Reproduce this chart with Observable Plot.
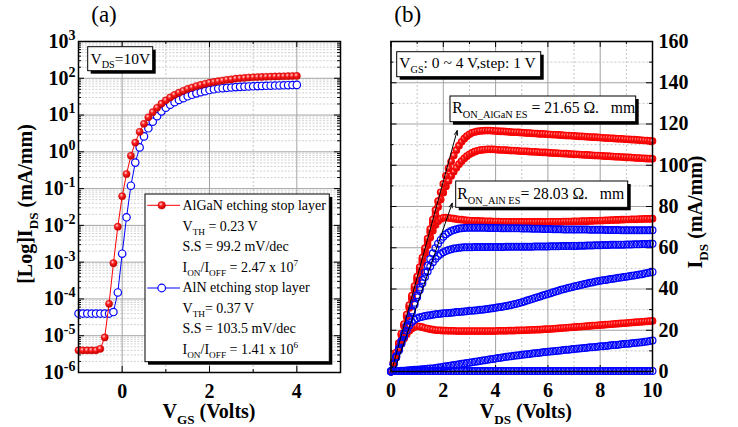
<!DOCTYPE html>
<html><head><meta charset="utf-8">
<script src="https://cdn.jsdelivr.net/npm/d3@7"></script>
<script src="https://cdn.jsdelivr.net/npm/@observablehq/plot@0.6"></script>
<style>
html,body{margin:0;padding:0;background:#fff;}
#wrap{display:flex;width:738px;height:427px;overflow:hidden;}
#wrap svg{flex:none;overflow:visible;}
</style></head><body><div id="wrap"></div>
<script>
// ---------- Panel (a): transfer characteristics, VDS = 10 V ----------
const vgs = [-1.0,-0.9,-0.8,-0.7,-0.6,-0.5,-0.4,-0.3,-0.2,-0.1,
  0.0,0.1,0.2,0.3,0.4,0.5,0.6,0.7,0.8,0.9,
  1.0,1.1,1.2,1.3,1.4,1.5,1.6,1.7,1.8,1.9,
  2.0,2.1,2.2,2.3,2.4,2.5,2.6,2.7,2.8,2.9,
  3.0,3.1,3.2,3.3,3.4,3.5,3.6,3.7,3.8,3.9,4.0];
const idsAlGaN = [4.0e-6,4.0e-6,4.0e-6,4.0e-6,4.0e-6,4.4e-6,9.0e-6,7.4e-5,9.4e-4,9.2e-3,
  6.2e-2,0.25,0.78,1.78,3.5,5.8,8.7,12.0,15.8,20.4,
  25.1,30.2,35.5,40.7,45.7,51.3,56.2,61.7,66.1,70.8,
  75.9,79.4,83.2,87.1,91.2,93.3,97.7,100,102,105,
  106.5,107.8,109,110,111,112,112.8,113.6,114.4,115.2,116];
const idsAlN = [4.0e-5,4.0e-5,4.0e-5,4.0e-5,4.0e-5,4.0e-5,4.0e-5,4.0e-5,4.4e-5,1.5e-4,
  1.7e-3,1.66e-2,0.12,0.51,1.32,2.63,4.37,6.6,9.3,12.6,
  15.8,19.1,22.4,25.7,28.8,32.4,35.5,38.9,41.7,44.7,
  47.9,50.1,52.5,53.7,55.0,56.2,57.5,58.4,59.2,60.0,
  60.6,61.2,61.8,62.4,62.9,63.4,63.9,64.4,64.9,65.4,66.0];
const logTicks = [1e-6,1e-5,1e-4,1e-3,1e-2,1e-1,1,10,100,1000];
const xTicksA = [0,2,4];
const xMinorA = [1,3];
const legendLinesA = [
  [["AlGaN etching stop layer"]],
  [["V"],["TH","sub"],[" = 0.23 V"]],
  [["S.S = 99.2 mV/dec"]],
  [["I"],["ON","sub"],["/I"],["OFF","sub"],[" = 2.47 x 10"],["7","sup"]],
  [["AlN etching stop layer"]],
  [["V"],["TH","sub"],["= 0.37 V"]],
  [["S.S = 103.5 mV/dec"]],
  [["I"],["ON","sub"],["/I"],["OFF","sub"],[" = 1.41 x 10"],["6","sup"]]
];

// ---------- Panel (b): output characteristics, VGS 0..4 V ----------
const vds = [0,0.1,0.2,0.3,0.4,0.5,0.6,0.7,0.8,0.9,
  1,1.1,1.2,1.3,1.4,1.5,1.6,1.7,1.8,1.9,
  2,2.1,2.2,2.3,2.4,2.5,2.6,2.7,2.8,2.9,
  3,3.1,3.2,3.3,3.4,3.5,3.6,3.7,3.8,3.9,
  4,4.1,4.2,4.3,4.4,4.5,4.6,4.7,4.8,4.9,
  5,5.1,5.2,5.3,5.4,5.5,5.6,5.7,5.8,5.9,
  6,6.1,6.2,6.3,6.4,6.5,6.6,6.7,6.8,6.9,
  7,7.1,7.2,7.3,7.4,7.5,7.6,7.7,7.8,7.9,
  8,8.1,8.2,8.3,8.4,8.5,8.6,8.7,8.8,8.9,
  9,9.1,9.2,9.3,9.4,9.5,9.6,9.7,9.8,9.9,10];
const algan4 = [0,4.6,9.2,13.8,18.4,23.0,27.6,32.2,36.8,41.4,
  46.0,50.6,55.2,59.8,64.4,69.0,73.6,78.2,82.6,86.9,
  91.0,94.9,98.5,101.8,104.7,107.3,109.5,111.4,112.9,114.1,
  115.0,115.7,116.1,116.4,116.6,116.7,116.8,116.8,116.8,116.7,
  116.6,116.5,116.4,116.4,116.3,116.2,116.1,116.0,116.0,115.9,
  115.8,115.7,115.6,115.6,115.5,115.4,115.3,115.2,115.2,115.1,
  115.0,114.9,114.8,114.8,114.7,114.6,114.5,114.4,114.4,114.3,
  114.2,114.1,114.0,114.0,113.9,113.8,113.7,113.6,113.6,113.5,
  113.4,113.3,113.2,113.2,113.1,113.0,112.9,112.8,112.8,112.7,
  112.6,112.5,112.4,112.4,112.3,112.2,112.1,112.0,111.9,111.8,111.7];
const algan3 = [0,4.5,9.0,13.5,18.0,22.5,27.0,31.5,36.0,40.5,
  45.0,49.5,54.0,58.5,63.0,67.5,71.8,75.9,79.8,83.4,
  86.7,89.7,92.4,94.8,96.9,98.8,100.5,102.0,103.3,104.4,
  105.3,106.0,106.6,107.0,107.3,107.5,107.6,107.7,107.7,107.7,
  107.6,107.5,107.4,107.4,107.3,107.2,107.1,107.1,107.0,106.9,
  106.8,106.8,106.7,106.6,106.5,106.5,106.4,106.3,106.2,106.2,
  106.1,106.0,105.9,105.9,105.8,105.7,105.6,105.6,105.5,105.4,
  105.3,105.3,105.2,105.1,105.0,105.0,104.9,104.8,104.7,104.7,
  104.6,104.5,104.4,104.4,104.3,104.2,104.1,104.1,104.0,103.9,
  103.8,103.8,103.7,103.6,103.5,103.5,103.4,103.3,103.2,103.2,103.1];
const algan2 = [0,4.4,8.8,13.2,17.6,22.0,26.4,30.8,35.2,39.6,
  44.0,48.4,52.8,57.1,61.2,65.0,68.3,71.0,72.9,74.0,
  74.5,74.6,74.5,74.3,74.1,73.9,73.7,73.6,73.4,73.3,
  73.2,73.1,73.0,73.0,72.9,72.9,72.8,72.8,72.8,72.7,
  72.7,72.7,72.6,72.6,72.6,72.6,72.5,72.5,72.5,72.5,
  72.5,72.5,72.5,72.5,72.5,72.5,72.5,72.5,72.5,72.5,
  72.5,72.6,72.6,72.6,72.6,72.6,72.7,72.7,72.7,72.7,
  72.8,72.8,72.8,72.9,72.9,72.9,73.0,73.0,73.1,73.1,
  73.2,73.2,73.3,73.3,73.4,73.4,73.5,73.5,73.6,73.6,
  73.7,73.7,73.8,73.8,73.8,73.9,73.9,74.0,74.0,74.0,74.1];
const algan1 = [0,3.6,7.1,10.4,13.4,16.0,18.1,19.8,20.9,21.6,
  21.9,21.8,21.5,21.1,20.8,20.5,20.3,20.1,20.0,19.9,
  19.8,19.8,19.7,19.7,19.7,19.6,19.6,19.6,19.6,19.6,
  19.6,19.6,19.6,19.6,19.6,19.6,19.6,19.6,19.6,19.6,
  19.6,19.7,19.7,19.7,19.7,19.8,19.8,19.8,19.9,19.9,
  20.0,20.0,20.1,20.1,20.2,20.2,20.3,20.3,20.4,20.5,
  20.5,20.6,20.7,20.8,20.9,21.0,21.1,21.2,21.3,21.4,
  21.5,21.6,21.7,21.8,21.9,22.0,22.1,22.2,22.3,22.4,
  22.5,22.6,22.7,22.8,22.9,23.0,23.1,23.2,23.3,23.4,
  23.5,23.6,23.7,23.8,23.9,24.0,24.1,24.2,24.3,24.4,24.5];
const aln4 = [0,3.7,7.4,11.1,14.8,18.5,22.2,25.9,29.6,33.3,
  37.0,40.7,44.4,48.0,51.4,54.5,57.3,59.8,62.0,63.8,
  65.3,66.5,67.4,68.1,68.6,69.0,69.3,69.5,69.6,69.7,
  69.7,69.7,69.7,69.7,69.7,69.7,69.7,69.6,69.6,69.6,
  69.6,69.6,69.5,69.5,69.5,69.5,69.4,69.4,69.4,69.4,
  69.3,69.3,69.3,69.3,69.2,69.2,69.2,69.2,69.1,69.1,
  69.1,69.1,69.0,69.0,69.0,69.0,68.9,68.9,68.9,68.9,
  68.9,68.8,68.8,68.8,68.8,68.8,68.7,68.7,68.7,68.7,
  68.7,68.7,68.6,68.6,68.6,68.6,68.6,68.6,68.5,68.5,
  68.5,68.5,68.5,68.5,68.5,68.5,68.5,68.5,68.5,68.5,68.5];
const aln3 = [0,3.6,7.2,10.8,14.4,18.0,21.6,25.2,28.8,32.4,
  36.0,39.5,42.8,45.8,48.5,50.9,53.0,54.7,56.0,57.0,
  57.8,58.4,58.9,59.3,59.6,59.8,60.0,60.1,60.2,60.3,
  60.3,60.3,60.4,60.4,60.4,60.4,60.4,60.4,60.4,60.4,
  60.4,60.4,60.4,60.4,60.5,60.5,60.5,60.5,60.5,60.5,
  60.5,60.5,60.5,60.5,60.5,60.6,60.6,60.6,60.6,60.6,
  60.6,60.7,60.7,60.7,60.7,60.8,60.8,60.8,60.8,60.9,
  60.9,60.9,61.0,61.0,61.0,61.1,61.1,61.1,61.2,61.2,
  61.2,61.3,61.3,61.3,61.4,61.4,61.4,61.5,61.5,61.5,
  61.6,61.6,61.6,61.7,61.7,61.7,61.8,61.8,61.8,61.9,61.9];
const aln2 = [0,3.4,6.8,10.2,13.6,16.9,19.9,22.3,24.0,25.1,
  25.8,26.3,26.6,26.9,27.1,27.3,27.5,27.7,27.9,28.0,
  28.2,28.3,28.4,28.5,28.6,28.8,28.9,29.0,29.1,29.2,
  29.4,29.5,29.6,29.7,29.9,30.0,30.2,30.3,30.5,30.7,
  30.9,31.1,31.3,31.5,31.7,32.0,32.3,32.6,32.9,33.2,
  33.6,34.0,34.4,34.8,35.2,35.6,36.0,36.4,36.8,37.2,
  37.6,38.0,38.4,38.8,39.2,39.6,39.9,40.3,40.6,40.9,
  41.2,41.5,41.8,42.1,42.4,42.7,43.0,43.2,43.5,43.7,
  44.0,44.2,44.4,44.6,44.8,45.0,45.2,45.4,45.6,45.8,
  46.0,46.2,46.4,46.6,46.8,47.0,47.2,47.5,47.7,48.0,48.3];
const aln1 = [0,0.2,0.3,0.3,0.4,0.4,0.5,0.6,0.7,0.8,
  0.9,1.0,1.1,1.2,1.3,1.4,1.5,1.7,1.9,2.1,
  2.3,2.5,2.7,2.9,3.1,3.3,3.5,3.7,3.9,4.1,
  4.3,4.5,4.7,4.9,5.1,5.3,5.5,5.7,5.9,6.1,
  6.3,6.5,6.7,6.9,7.1,7.3,7.4,7.6,7.8,7.9,
  8.1,8.2,8.4,8.5,8.7,8.8,9.0,9.1,9.3,9.4,
  9.6,9.7,9.8,10.0,10.1,10.2,10.4,10.5,10.6,10.8,
  10.9,11.0,11.2,11.3,11.4,11.5,11.7,11.8,11.9,12.0,
  12.2,12.3,12.4,12.5,12.7,12.8,12.9,13.0,13.2,13.3,
  13.4,13.5,13.7,13.8,13.9,14.1,14.2,14.4,14.6,14.8,15.0];
const aln0 = [0.2,0.2,0.2,0.2,0.2,0.2,0.2,0.2,0.2,0.2,
  0.2,0.2,0.2,0.2,0.2,0.2,0.2,0.2,0.2,0.2,
  0.2,0.2,0.2,0.2,0.2,0.2,0.2,0.2,0.2,0.2,
  0.2,0.2,0.2,0.2,0.2,0.2,0.2,0.2,0.2,0.2,
  0.2,0.2,0.2,0.2,0.2,0.2,0.2,0.2,0.2,0.2,
  0.2,0.2,0.2,0.2,0.2,0.2,0.2,0.2,0.2,0.2,
  0.2,0.2,0.2,0.2,0.2,0.2,0.2,0.2,0.2,0.2,
  0.2,0.2,0.2,0.2,0.2,0.2,0.2,0.2,0.2,0.2,
  0.2,0.2,0.2,0.2,0.2,0.2,0.2,0.2,0.2,0.2,
  0.2,0.2,0.2,0.2,0.2,0.2,0.2,0.2,0.2,0.2,0.2];
const xTicksB = [0,2,4,6,8,10];
const xMinorB = [1,3,5,7,9];
const yTicksB = [0,20,40,60,80,100,120,140,160];
const yMinorB = [10,30,50,70,90,110,130,150];
const ronArrows = [
  {x1: 0.06, y1: 1.9, x2: 2.53, y2: 116.8},
  {x1: 0.17, y1: 1.9, x2: 2.34, y2: 81.6}
];

// ---------- helpers ----------
const SERIF = "'Liberation Serif','Times New Roman',serif";
function rich(svg, x, y, segs, {size = 20, weight = "bold", anchor = "start", rotate = 0} = {}) {
  const t = d3.select(svg).append("text")
    .attr("transform", `translate(${x},${y})` + (rotate ? ` rotate(${rotate})` : ""))
    .attr("text-anchor", anchor).attr("font-family", SERIF)
    .attr("font-size", size).attr("font-weight", weight)
    .attr("fill", "black").style("white-space", "pre");
  let shift = 0;
  for (const [txt, kind] of segs) {
    const target = kind === "sub" ? size * 0.3 : kind === "sup" ? -size * 0.4 : 0;
    t.append("tspan").attr("dy", target - shift)
      .attr("font-size", kind ? size * 0.66 : size).text(txt);
    shift = target;
  }
  return t;
}
function box(svg, x, y, w, h) {
  const s = d3.select(svg);
  s.append("rect").attr("x", x + 3).attr("y", y + 3).attr("width", w).attr("height", h).attr("fill", "black");
  s.append("rect").attr("x", x).attr("y", y).attr("width", w).attr("height", h)
    .attr("fill", "white").attr("stroke", "black").attr("stroke-width", 1);
}
function ballGradient(svg, id) {
  const g = d3.select(svg).insert("defs", ":first-child").append("radialGradient")
    .attr("id", id).attr("cx", "38%").attr("cy", "35%").attr("r", "65%");
  g.append("stop").attr("offset", "0%").attr("stop-color", "#ffd8d8");
  g.append("stop").attr("offset", "40%").attr("stop-color", "#ff2020");
  g.append("stop").attr("offset", "100%").attr("stop-color", "#c00000");
}
function inwardTicks(major, minor, axis, span, big, small) {
  const T = axis === "y" ? Plot.tickY : Plot.tickX;
  const a = axis === "y" ? ["insetRight", "insetLeft"] : ["insetTop", "insetBottom"];
  return [
    T(major, {[a[0]]: span - big, stroke: "black", strokeWidth: 1}),
    T(major, {[a[1]]: span - big, stroke: "black", strokeWidth: 1}),
    T(minor, {[a[0]]: span - small, stroke: "black", strokeWidth: 1}),
    T(minor, {[a[1]]: span - small, stroke: "black", strokeWidth: 1})
  ];
}
const gridMajor = "#a3a3a3", gridMinor = "#c6c6c6";

// ---------- build panel (a) ----------
const transferAlGaN = vgs.map((v, i) => ({v, i: idsAlGaN[i]}));
const transferAlN = vgs.map((v, i) => ({v, i: idsAlN[i]}));
const minorLog = [];
for (let e = -6; e <= 2; e++) for (let k = 2; k <= 9; k++) minorLog.push(k * Math.pow(10, e));

const mA = {l: 78, r: 29, t: 41, b: 55};
const fwA = 369 - mA.l - mA.r, fhA = 427 - mA.t - mA.b;
const plotA = Plot.plot({
  width: 369, height: 427,
  marginLeft: mA.l, marginRight: mA.r, marginTop: mA.t, marginBottom: mA.b,
  x: {domain: [-1, 5]},
  y: {type: "log", domain: [1e-6, 1e3]},
  style: {fontFamily: SERIF, fontSize: "20px", fontWeight: "bold", color: "black", background: "white"},
  marks: [
    Plot.ruleY(minorLog, {stroke: gridMinor, strokeWidth: 0.8, strokeDasharray: "2,1.5"}),
    Plot.ruleY(logTicks, {stroke: gridMajor, strokeWidth: 1}),
    Plot.ruleX(xMinorA, {stroke: gridMinor, strokeDasharray: "2,2"}),
    Plot.ruleX(xTicksA, {stroke: gridMajor}),
    ...inwardTicks(logTicks, minorLog, "y", fwA, 6, 3),
    ...inwardTicks(xTicksA, xMinorA, "x", fhA, 6, 3),
    Plot.line(transferAlN, {x: "v", y: "i", stroke: "#0000ff", strokeWidth: 1}),
    Plot.dot(transferAlN, {x: "v", y: "i", r: 3.7, fill: "white", stroke: "#0000ff", strokeWidth: 1.2}),
    Plot.line(transferAlGaN, {x: "v", y: "i", stroke: "#ff0000", strokeWidth: 1}),
    Plot.dot(transferAlGaN, {x: "v", y: "i", r: 3.6, fill: "url(#ballA)", stroke: "#d00000", strokeWidth: 0.5}),
    Plot.axisY(logTicks, {tickSize: 0, tickPadding: 3, label: null,
      tickFormat: d => String(Math.round(Math.log10(d)))}),
    Plot.axisX(xTicksA, {tickSize: 0, tickPadding: 11, label: null}),
    Plot.frame({stroke: "black", strokeWidth: 1.5})
  ]
});
ballGradient(plotA, "ballA");
d3.select(plotA).selectAll('g[aria-label="y-axis tick label"] text').each(function () {
  const e = this.textContent;
  const t = d3.select(this);
  t.text("");
  t.append("tspan").text("10");
  t.append("tspan").attr("dy", -8).attr("font-size", 14).text(e);
});
rich(plotA, 104, 22, [["(a)"]], {size: 23, weight: "normal", anchor: "middle"});
rich(plotA, 209, 418, [["V"], ["GS", "sub"], [" (Volts)"]], {size: 20, anchor: "middle"});
rich(plotA, 32, 204, [["[Log]I"], ["DS", "sub"], [" (mA/mm)"]], {size: 20, anchor: "middle", rotate: -90});
// VDS box
box(plotA, 87.7, 46.7, 65, 24);
rich(plotA, 90.5, 63.5, [["V"], ["DS", "sub"], ["=10V"]], {size: 15.5, weight: "normal"});
// legend
box(plotA, 145, 194, 184.3, 167.7);
legendLinesA.forEach((segs, k) => {
  rich(plotA, 182.5, 210 + 20.5 * k, segs, {size: 14, weight: "normal"});
});
{
  const s = d3.select(plotA);
  s.append("line").attr("x1", 147.3).attr("x2", 180).attr("y1", 205.3).attr("y2", 205.3).attr("stroke", "#ff0000");
  s.append("circle").attr("cx", 161.7).attr("cy", 205.3).attr("r", 3.8).attr("fill", "url(#ballA)").attr("stroke", "#d00000").attr("stroke-width", 0.5);
  s.append("line").attr("x1", 147.3).attr("x2", 180).attr("y1", 288).attr("y2", 288).attr("stroke", "#0000ff");
  s.append("circle").attr("cx", 161.7).attr("cy", 288).attr("r", 3.8).attr("fill", "white").attr("stroke", "#0000ff").attr("stroke-width", 1.2);
}

// ---------- build panel (b) ----------
const redCurves = [algan1, algan2, algan3, algan4];
const blueCurves = [aln0, aln1, aln2, aln3, aln4];
const outRed = redCurves.flatMap((c, g) => vds.map((v, i) => ({v, i: c[i], g: g + 1})));
const outBlue = blueCurves.flatMap((c, g) => vds.map((v, i) => ({v, i: c[i], g})));

const mB = {l: 21.5, r: 86, t: 41, b: 56};
const fwB = 369 - mB.l - mB.r, fhB = 427 - mB.t - mB.b;
const plotB = Plot.plot({
  width: 369, height: 427,
  marginLeft: mB.l, marginRight: mB.r, marginTop: mB.t, marginBottom: mB.b,
  x: {domain: [0, 10]},
  y: {domain: [0, 160]},
  style: {fontFamily: SERIF, fontSize: "20px", fontWeight: "bold", color: "black", background: "white"},
  marks: [
    Plot.ruleY(yMinorB, {stroke: gridMinor, strokeDasharray: "2,2"}),
    Plot.ruleY(yTicksB, {stroke: gridMajor}),
    Plot.ruleX(xMinorB, {stroke: gridMinor, strokeDasharray: "2,2"}),
    Plot.ruleX(xTicksB, {stroke: gridMajor}),
    ...inwardTicks(yTicksB, yMinorB, "y", fwB, 6, 3),
    ...inwardTicks(xTicksB, xMinorB, "x", fhB, 6, 3),
    Plot.dot(outRed, {x: "v", y: "i", r: 3.3, fill: "url(#ballB)", stroke: "#ff0000", strokeWidth: 1.1}),
    Plot.dot(outBlue, {x: "v", y: "i", r: 3.4, fill: "none", stroke: "#0000ff", strokeWidth: 1.2}),
    Plot.arrow(ronArrows, {x1: "x1", y1: "y1", x2: "x2", y2: "y2", stroke: "black", strokeWidth: 1, headLength: 7, headAngle: 40}),
    Plot.axisY(yTicksB, {anchor: "right", tickSize: 0, tickPadding: 6, label: null}),
    Plot.axisX(xTicksB, {tickSize: 0, tickPadding: 11, label: null}),
    Plot.frame({stroke: "black", strokeWidth: 1.5})
  ]
});
ballGradient(plotB, "ballB");
const ox = 369;
rich(plotB, 407.7 - ox, 22, [["(b)"]], {size: 23, weight: "normal", anchor: "middle"});
rich(plotB, 525.8 - ox, 418, [["V"], ["DS", "sub"], [" (Volts)"]], {size: 20, anchor: "middle"});
rich(plotB, 702 - ox, 212, [["I"], ["DS", "sub"], [" (mA/mm)"]], {size: 20, anchor: "middle", rotate: -90});
box(plotB, 396.7 - ox, 51.7, 144, 25);
rich(plotB, 399.3 - ox, 68, [["V"], ["GS", "sub"], [": 0 ~ 4 V,step: 1 V"]], {size: 15.5, weight: "normal"});
box(plotB, 450 - ox, 96, 185.7, 25.7);
rich(plotB, 452.3 - ox, 113.3, [["R"], ["ON_AlGaN ES", "sub"], [" = 21.65 Ω.   mm"]], {size: 15.7, weight: "normal"});
box(plotB, 455.7 - ox, 181, 172, 26.3);
rich(plotB, 457.3 - ox, 199, [["R"], ["ON_AlN ES", "sub"], ["= 28.03 Ω.   mm"]], {size: 15.7, weight: "normal"});

document.getElementById("wrap").append(plotA, plotB);
</script>
</body></html>
